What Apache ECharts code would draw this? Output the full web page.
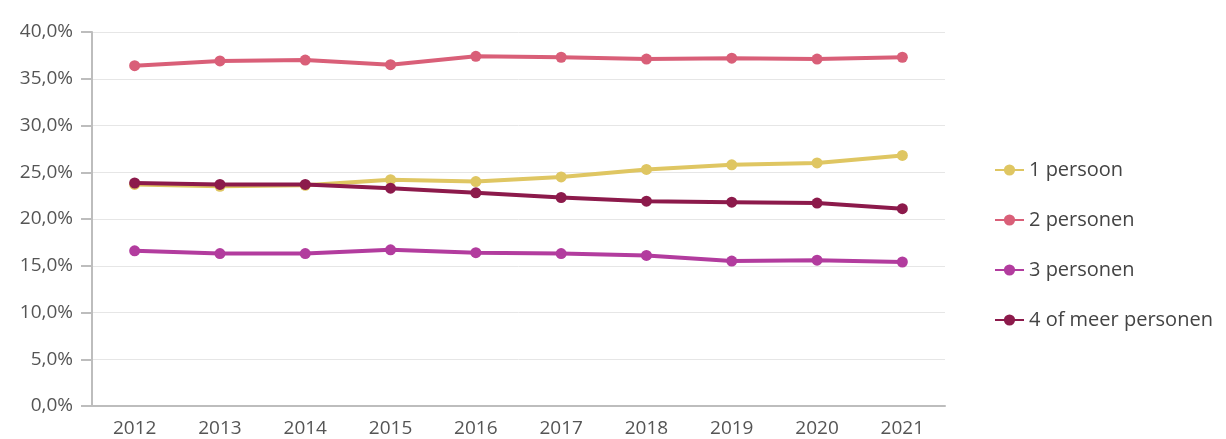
<!DOCTYPE html>
<html><head><meta charset="utf-8">
<script src="https://cdn.jsdelivr.net/npm/echarts@6/dist/echarts.min.js"></script>
<style>html,body{margin:0;padding:0;background:#fff}#c{width:1226px;height:439px}</style>
</head><body><div id="c"></div>
<script>
const years = ['2012','2013','2014','2015','2016','2017','2018','2019','2020','2021'];
const seriesNames = ['1 persoon','2 personen','3 personen','4 of meer personen'];
const persoon1 = [23.7, 23.5, 23.6, 24.2, 24.0, 24.5, 25.3, 25.8, 26.0, 26.8];
const personen2 = [36.4, 36.9, 37.0, 36.5, 37.4, 37.3, 37.1, 37.2, 37.1, 37.3];
const personen3 = [16.6, 16.3, 16.3, 16.7, 16.4, 16.3, 16.1, 15.5, 15.6, 15.4];
const personen4 = [23.85, 23.7, 23.7, 23.3, 22.8, 22.3, 21.9, 21.8, 21.7, 21.1];
const colors = ['#dfc662', '#d95f78', '#b23c9e', '#8c1a4b'];
const dataSets = [persoon1, personen2, personen3, personen4];
const font = '"Open Sans", "Noto Sans", sans-serif';
const chart = echarts.init(document.getElementById('c'));
chart.setOption({
  animation: false,
  color: colors,
  grid: {left: 92, right: 281, top: 32, bottom: 33, containLabel: false},
  legend: {
    orient: 'vertical', left: 989, top: 155, itemGap: 30, itemWidth: 29, itemHeight: 14,
    textStyle: {fontFamily: font, fontSize: 20, color: '#444'},
    data: seriesNames
  },
  xAxis: {
    type: 'category', data: years, boundaryGap: true,
    axisLine: {lineStyle: {color: '#bdbdbd', width: 2}},
    axisTick: {alignWithLabel: true, length: 9, lineStyle: {color: '#bdbdbd', width: 2}},
    axisLabel: {fontFamily: font, fontSize: 19, color: '#555', margin: 13}
  },
  yAxis: {
    type: 'value', min: 0, max: 40, interval: 5,
    axisLine: {show: true, lineStyle: {color: '#bdbdbd', width: 2}},
    axisTick: {show: true, length: 11, lineStyle: {color: '#bdbdbd', width: 2}},
    splitLine: {lineStyle: {color: '#e6e6e6', width: 1}},
    axisLabel: {fontFamily: font, fontSize: 19, color: '#555', margin: 19,
      formatter: v => v.toFixed(1).replace('.', ',') + '%'}
  },
  series: seriesNames.map((n, i) => ({
    name: n, type: 'line', data: dataSets[i],
    symbol: 'circle', symbolSize: 11,
    lineStyle: {width: 4, color: colors[i]},
    itemStyle: {color: colors[i]},
    z: i === 3 ? 5 : 2
  }))
});
</script></body></html>
